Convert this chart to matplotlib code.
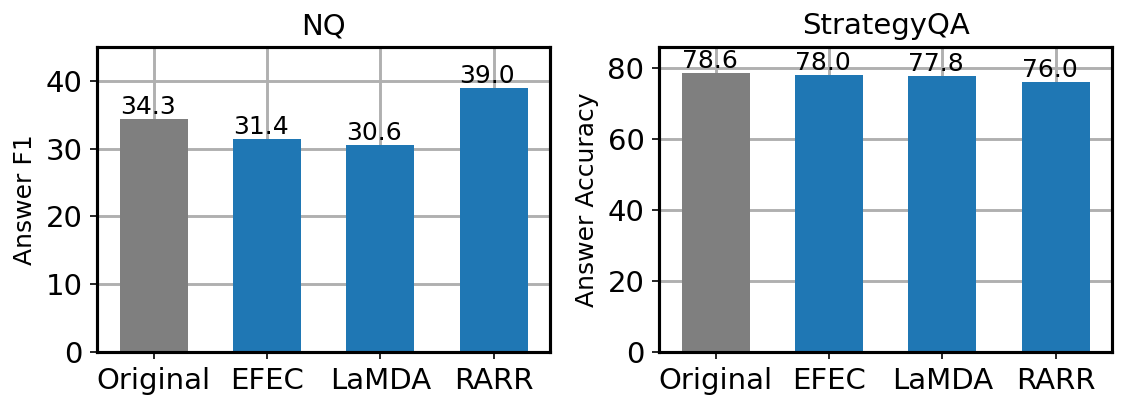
import matplotlib.pyplot as plt

# data
methods = ['Original', 'EFEC', 'LaMDA', 'RARR']
nq_f1 = [34.3, 31.4, 30.6, 39.0]
sqa_acc = [78.6, 78.0, 77.8, 76.0]
colors = ['tab:gray', 'tab:blue', 'tab:blue', 'tab:blue']


def bar_panel(ax, vals, title, ylabel, ymax):
    x = range(len(methods))
    width = 0.6
    ax.bar(x, vals, width=width, color=colors)
    for i, v in zip(x, vals):
        ax.text(i - width / 2, v, '%.1f' % v, ha='left', va='bottom', fontsize=12)
    ax.set_axisbelow(True)
    ax.grid(True, color='#b0b0b0', linewidth=1.4)
    ax.set_xticks(list(x))
    ax.set_xticklabels(methods, fontsize=14)
    ax.tick_params(axis='y', labelsize=14)
    ax.set_xlim(-0.5, len(methods) - 0.5)
    ax.set_ylim(0, ymax)
    ax.set_title(title, fontsize=14)
    ax.set_ylabel(ylabel, fontsize=12)
    for s in ax.spines.values():
        s.set_linewidth(1.5)


fig, (ax1, ax2) = plt.subplots(1, 2, figsize=(7.52, 2.72), dpi=150)
fig.subplots_adjust(left=0.086, right=0.986, top=0.885, bottom=0.137, wspace=0.24)

bar_panel(ax1, nq_f1, 'NQ', 'Answer F1', 45)
bar_panel(ax2, sqa_acc, 'StrategyQA', 'Answer Accuracy', 86)

plt.savefig('out.png')
